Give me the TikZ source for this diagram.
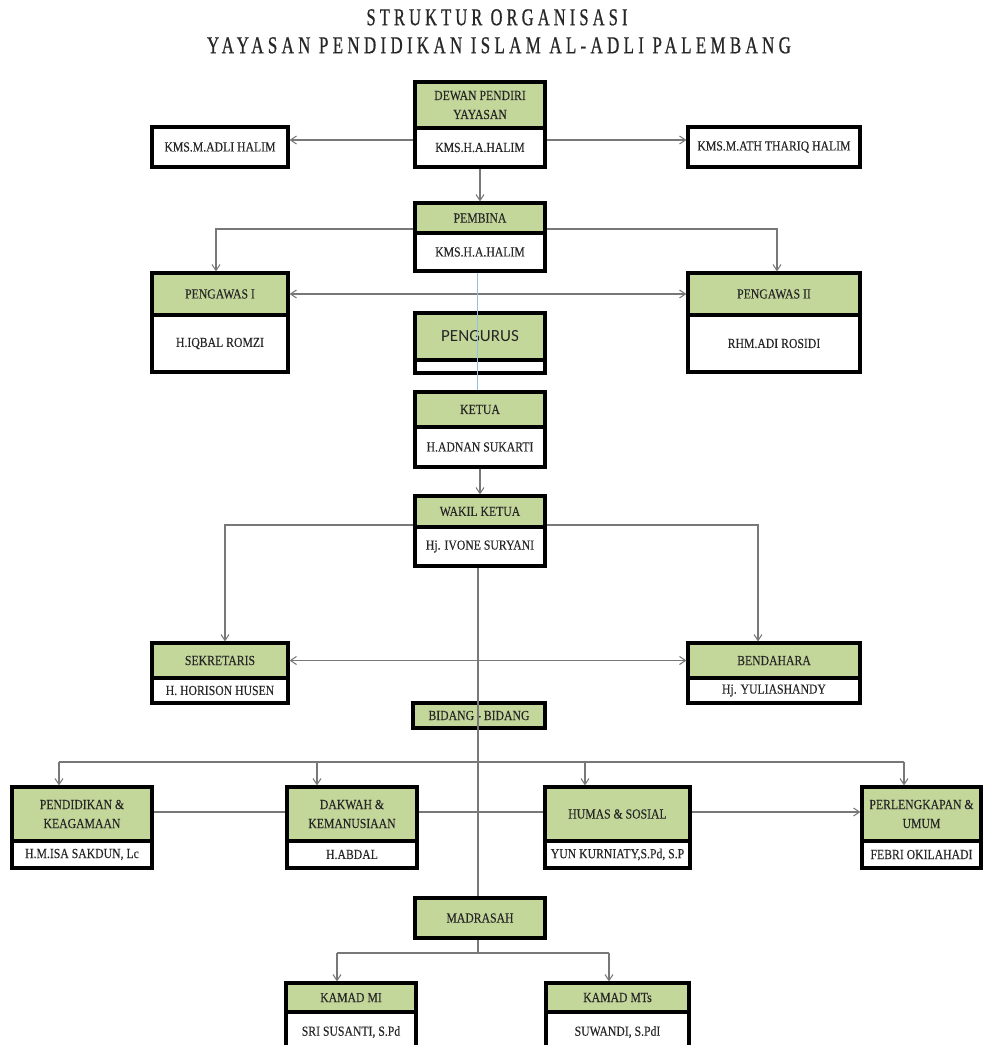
\documentclass[tikz,border=0pt]{standalone}
\usepackage{fontspec}
\setmainfont{Liberation Serif}[FakeStretch=0.85,FakeBold=0.15]
\newfontfamily\titlefont{Liberation Serif}[FakeBold=0.8]
\newfontfamily\calibfont{Carlito}
\usetikzlibrary{arrows.meta,calc}
\definecolor{hdr}{RGB}{196,215,155}
\definecolor{txt}{RGB}{38,38,38}
\definecolor{conn}{RGB}{120,120,120}
\definecolor{blueln}{RGB}{150,190,230}
\newcommand\twobox[8]{%
  \node[hd, minimum width={#3-#2}, minimum height={#5-#4}] (#1H) at ({(#2+#3)/2},{(#4+#5)/2}) {#7};
  \node[bd, minimum width={#3-#2}, minimum height={#6-#5}] (#1B) at ({(#2+#3)/2},{(#5+#6)/2}) {#8};}
\newcommand\onebox[7]{%
  \node[#7, minimum width={#3-#2}, minimum height={#5-#4}] (#1) at ({(#2+#3)/2},{(#4+#5)/2}) {#6};}
\begin{document}
\begin{tikzpicture}[x=1pt,y=-1pt,
  bx/.style={draw=black, line width=3.2pt, rectangle, inner sep=0pt, text=txt, align=center,
             font=\fontsize{13.8}{19}\selectfont},
  hd/.style={bx, fill=hdr},
  bd/.style={bx, fill=white},
  ln/.style={draw=conn, line width=1.3pt},
  ar/.style={ln, -{Straight Barb[length=6pt,width=8pt,line width=1pt]}},
  da/.style={ln, {Straight Barb[length=6pt,width=8pt,line width=1pt]}-{Straight Barb[length=6pt,width=8pt,line width=1pt]}},
  blue/.style={draw=blueln, line width=1pt}
]
\useasboundingbox (0,0) rectangle (983,1045);
\fill[white] (0,0) rectangle (983,1045);

% title
\node[anchor=north, inner sep=0pt, text=txt] (t1) at (497,9)
  {\resizebox{261pt}{16pt}{\titlefont\addfontfeatures{LetterSpace=25}STRUKTUR ORGANISASI}};
\node[anchor=north, inner sep=0pt, text=txt] (t2) at (499,37)
  {\resizebox{584pt}{16pt}{\titlefont\addfontfeatures{LetterSpace=25}YAYASAN PENDIDIKAN ISLAM AL-ADLI PALEMBANG}};

% boxes
\twobox{dewan}{415}{545}{82}{128}{167}{DEWAN PENDIRI\\YAYASAN}{KMS.H.A.HALIM}
\onebox{adli}{152}{288}{127}{167}{KMS.M.ADLI HALIM}{bd}
\onebox{thariq}{688}{860}{127}{167}{KMS.M.ATH THARIQ HALIM}{bd}
\twobox{pembina}{415}{545}{203}{233}{271}{PEMBINA}{KMS.H.A.HALIM}
\twobox{pengA}{152}{288}{273}{315}{372}{PENGAWAS I}{H.IQBAL ROMZI}
\twobox{pengB}{688}{860}{273}{315}{372}{PENGAWAS II}{RHM.ADI ROSIDI}
\twobox{pengurus}{415}{545}{313}{360}{373}{\calibfont\fontsize{17}{18}\selectfont PENGURUS}{}
\twobox{ketua}{415}{545}{392}{427}{467}{KETUA}{H.ADNAN SUKARTI}
\twobox{wakil}{415}{545}{496}{527}{566}{WAKIL KETUA}{Hj. IVONE SURYANI}
\twobox{sek}{152}{288}{643}{678}{703}{SEKRETARIS}{H. HORISON HUSEN}
\twobox{bend}{688}{860}{643}{678}{703}{BENDAHARA}{Hj. YULIASHANDY}
\onebox{bidang}{413}{545}{703}{728}{BIDANG - BIDANG}{hd}
\twobox{pend}{12}{152}{787}{841}{868}{PENDIDIKAN \&\\KEAGAMAAN}{H.M.ISA SAKDUN, Lc}
\twobox{dak}{287}{417}{787}{841}{868}{DAKWAH \&\\KEMANUSIAAN}{H.ABDAL}
\twobox{hum}{545}{690}{787}{841}{868}{HUMAS \& SOSIAL}{YUN KURNIATY,S.Pd, S.P}
\twobox{per}{862}{981}{787}{841}{868}{PERLENGKAPAN \&\\UMUM}{FEBRI OKILAHADI}
\onebox{madrasah}{415}{545}{898}{938}{MADRASAH}{hd}
\twobox{kmi}{286}{416}{983}{1012}{1052}{KAMAD MI}{SRI SUSANTI, S.Pd}
\twobox{kmt}{546}{689}{983}{1012}{1052}{KAMAD MTs}{SUWANDI, S.PdI}

% connectors
\draw[ar] ([yshift=7.5pt]dewanB.west) -- ([yshift=7pt]adli.east);
\draw[ar] ([yshift=7.5pt]dewanB.east) -- ([yshift=7pt]thariq.west);
\draw[ar] (dewanB.south) -- (pembinaH.north);
\draw[ar] ([yshift=-11pt]pembinaH.west) -| ([xshift=-4pt]pengAH.north);
\draw[ar] ([yshift=-11pt]pembinaH.east) -| ([xshift=3pt]pengBH.north);
\draw[da] (pengAH.east) -- (pengBH.west);
\draw[blue] ([xshift=-3pt]pembinaB.south) -- ([xshift=-3pt]ketuaH.north);
\draw[ar] (ketuaB.south) -- (wakilH.north);
\draw[ar] ([yshift=-13.5pt]wakilH.west) -| ([xshift=5pt]sekH.north);
\draw[ar] ([yshift=-13.5pt]wakilH.east) -| ([xshift=-16pt]bendH.north);
\draw[da] (sekH.east) -- (bendH.west);
\draw[ln] ([xshift=-2pt]wakilB.south) -- ([xshift=-2pt]madrasah.north);

\coordinate (b1) at (59,762);
\coordinate (b2) at (317,762);
\coordinate (b3) at (585,762);
\coordinate (b4) at (904,762);
\draw[ln] (b1) -- (b4);
\draw[ar] (b1) -- (b1 |- pendH.north);
\draw[ar] (b2) -- (b2 |- dakH.north);
\draw[ar] (b3) -- (b3 |- humH.north);
\draw[ar] (b4) -- (b4 |- perH.north);
\draw[ln] ([yshift=2pt]pendH.east) -- ([yshift=2pt]dakH.west);
\draw[ln] ([yshift=2pt]dakH.east) -- ([yshift=2pt]humH.west);
\draw[ar] ([yshift=2pt]humH.east) -- ([yshift=2pt]perH.west);

\coordinate (mj) at (478,953);
\coordinate (ml) at (337,953);
\coordinate (mr) at (609,953);
\draw[ln] (madrasah.south -| mj) -- (mj);
\draw[ln] (ml) -- (mr);
\draw[ar] (ml) -- (ml |- kmiH.north);
\draw[ar] (mr) -- (mr |- kmtH.north);
\end{tikzpicture}
\end{document}
